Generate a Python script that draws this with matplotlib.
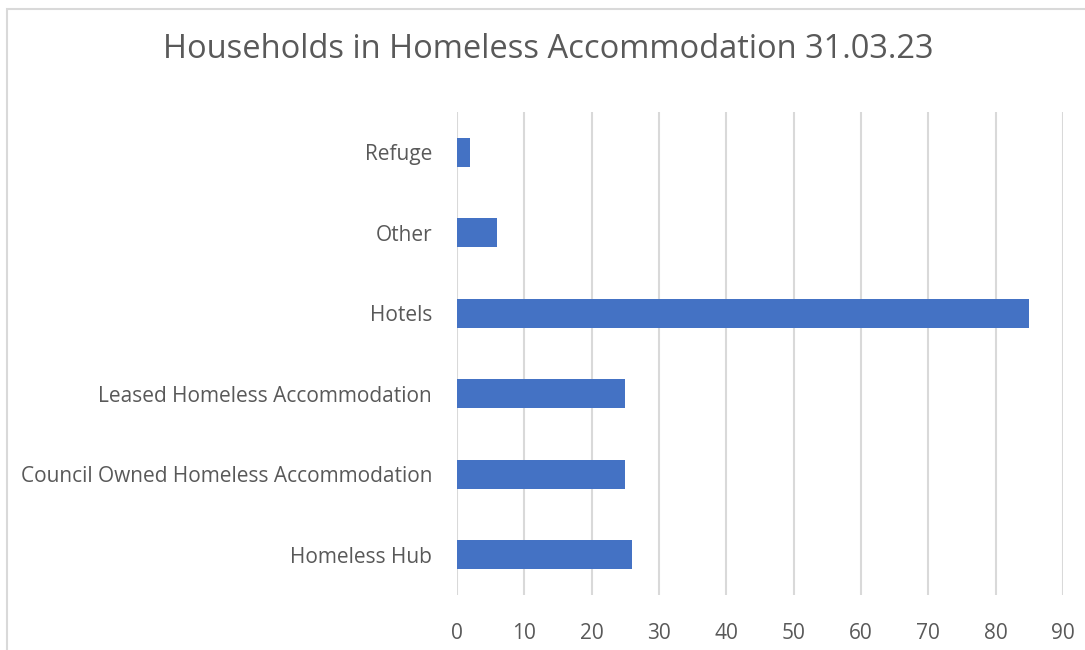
import matplotlib
matplotlib.use("Agg")
import matplotlib.pyplot as plt
from matplotlib.patches import Rectangle

# Data
categories = ["Homeless Hub", "Council Owned Homeless Accommodation",
              "Leased Homeless Accommodation", "Hotels", "Other", "Refuge"]
values = [26, 25, 25, 85, 6, 2]
xticks = list(range(0, 100, 10))

text_col = "#595959"
grid_col = "#d9d9d9"
bar_col = "#4472C4"

plt.rcParams["font.family"] = ["Open Sans", "DejaVu Sans"]

fig = plt.figure(figsize=(10.85, 6.5), dpi=100)
ax = fig.add_axes([0.4212, 0.0846, 0.5585, 0.743])

ax.barh(range(len(categories)), values, height=0.36, color=bar_col, zorder=3)
ax.set_yticks(range(len(categories)))
ax.set_yticklabels(categories)
ax.set_ylim(-0.5, len(categories) - 0.5)
ax.set_xlim(0, 90)
ax.set_xticks(xticks)

ax.grid(axis="x", color=grid_col, linewidth=1.5, zorder=0)
for s in ax.spines.values():
    s.set_visible(False)
ax.tick_params(axis="both", length=0, labelsize=15, labelcolor=text_col)
ax.tick_params(axis="y", pad=18)
ax.tick_params(axis="x", pad=20)

fig.text(0.505, 0.924, "Households in Homeless Accommodation 31.03.23",
         ha="center", va="center", fontsize=23.5, color=text_col)

# chart frame, cut off at right and bottom (pixel coords)
fig.patches.append(Rectangle((7, 650 - 9 - 800), 1200, 800, transform=None,
                             fill=False, edgecolor=grid_col, linewidth=1.5))

fig.savefig("out.png", dpi=100)
